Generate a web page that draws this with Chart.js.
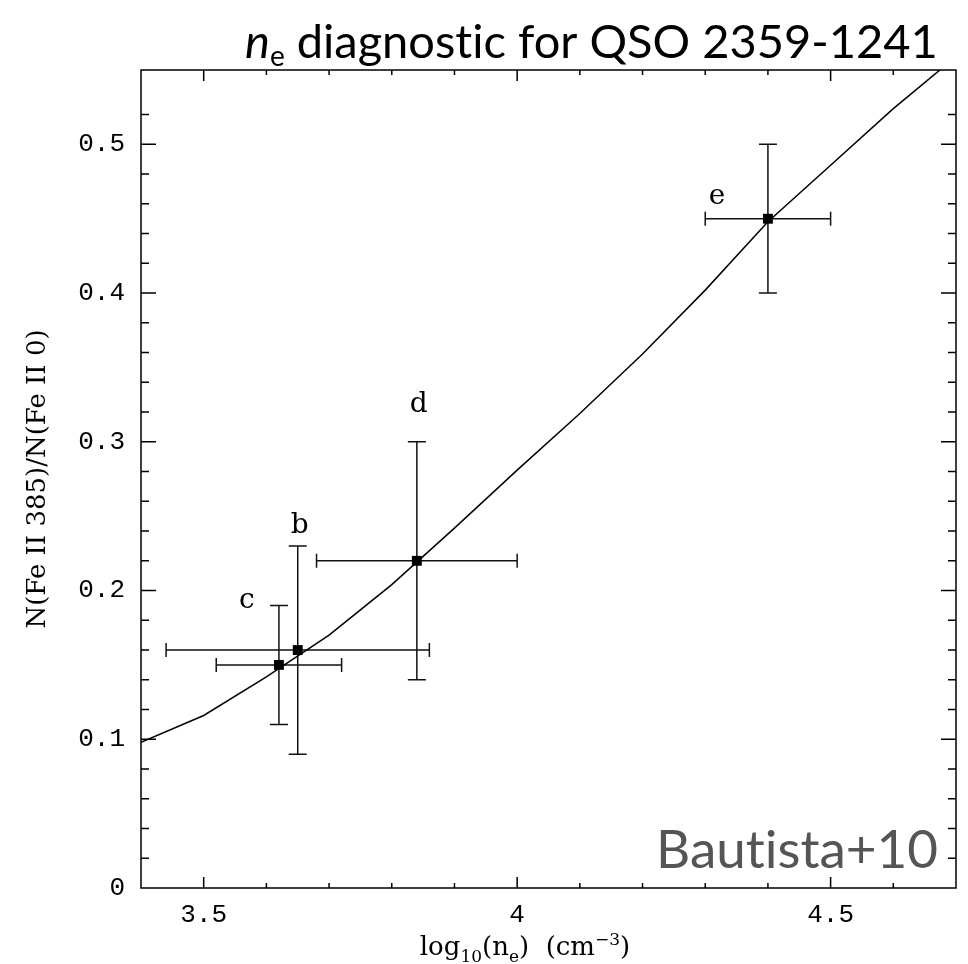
<!DOCTYPE html>
<html>
<head>
<meta charset="utf-8">
<script src="https://cdn.jsdelivr.net/npm/chart.js@4.4.0/dist/chart.umd.min.js"></script>
<style>
  html, body { margin: 0; padding: 0; background: #fff; }
</style>
</head>
<body>
<canvas id="neChart" width="968" height="964"></canvas>
<script>
// model curve: line ratio vs density
const modelX = [3.4, 3.5, 3.6, 3.7, 3.8, 3.9, 4.0, 4.1, 4.2, 4.3, 4.4, 4.5, 4.6, 4.7];
const modelY = [0.098, 0.116, 0.142, 0.170, 0.204, 0.242, 0.281, 0.319, 0.359, 0.402, 0.448, 0.486, 0.524, 0.559];

// measured components
const obsLabel = ['c', 'b', 'd', 'e'];
const obsX = [3.62, 3.65, 3.84, 4.40];
const obsY = [0.15, 0.16, 0.22, 0.45];
const obsXLo = [3.52, 3.44, 3.68, 4.30];
const obsXHi = [3.72, 3.86, 4.00, 4.50];
const obsYLo = [0.11, 0.09, 0.14, 0.40];
const obsYHi = [0.19, 0.23, 0.30, 0.50];
// where the component letters sit (data units)
const labelX = [3.569, 3.653, 3.843, 4.319];
const labelY = [0.188, 0.239, 0.320, 0.460];

const xTickLabels = [3.5, 4, 4.5];
const yTickLabels = [0, 0.1, 0.2, 0.3, 0.4, 0.5];

const isLabelled = (list, v) => list.some(t => Math.abs(t - v) < 1e-6);
const labelFor = (list, v) => isLabelled(list, v) ? String(list.find(t => Math.abs(t - v) < 1e-6)) : '';

// text drawn piece by piece (sub/superscripts, and no "ti" ligature)
function drawParts(ctx, parts, x, y) {
  let cx = x;
  parts.forEach(([txt, font, dy]) => {
    ctx.font = font;
    ctx.fillText(txt, cx, y + dy);
    cx += ctx.measureText(txt).width;
  });
}
function partsWidth(ctx, parts) {
  return parts.reduce((w, [txt, font]) => { ctx.font = font; return w + ctx.measureText(txt).width; }, 0);
}

const errorBars = {
  id: 'errorBars',
  beforeDatasetsDraw(chart) {
    const { ctx, scales: { x, y } } = chart;
    ctx.save();
    ctx.strokeStyle = '#111';
    ctx.lineWidth = 1.5;
    obsX.forEach((v, i) => {
      const px = x.getPixelForValue(v);
      const py = y.getPixelForValue(obsY[i]);
      const x0 = x.getPixelForValue(obsXLo[i]), x1 = x.getPixelForValue(obsXHi[i]);
      const y0 = y.getPixelForValue(obsYLo[i]), y1 = y.getPixelForValue(obsYHi[i]);
      ctx.beginPath();
      ctx.moveTo(x0, py); ctx.lineTo(x1, py);
      ctx.moveTo(x0, py - 7); ctx.lineTo(x0, py + 7);
      ctx.moveTo(x1, py - 7); ctx.lineTo(x1, py + 7);
      ctx.moveTo(px, y0); ctx.lineTo(px, y1);
      ctx.moveTo(px - 9, y0); ctx.lineTo(px + 9, y0);
      ctx.moveTo(px - 9, y1); ctx.lineTo(px + 9, y1);
      ctx.stroke();
    });
    ctx.restore();
  }
};

const frameAndText = {
  id: 'frameAndText',
  afterDraw(chart) {
    const { ctx, chartArea: a, scales: { x, y } } = chart;
    ctx.save();
    // frame
    ctx.strokeStyle = '#000';
    ctx.lineWidth = 1.5;
    ctx.strokeRect(a.left, a.top, a.right - a.left, a.bottom - a.top);
    // inward ticks on all four sides
    ctx.beginPath();
    x.ticks.forEach(t => {
      const px = x.getPixelForValue(t.value);
      if (px <= a.left + 1 || px >= a.right - 1) return;
      const len = isLabelled(xTickLabels, t.value) ? 11 : 5;
      ctx.moveTo(px, a.bottom); ctx.lineTo(px, a.bottom - len);
      ctx.moveTo(px, a.top); ctx.lineTo(px, a.top + len);
    });
    y.ticks.forEach(t => {
      const py = y.getPixelForValue(t.value);
      if (py >= a.bottom - 1 || py <= a.top + 1) return;
      const len = isLabelled(yTickLabels, t.value) ? 15 : 8;
      ctx.moveTo(a.left, py); ctx.lineTo(a.left + len, py);
      ctx.moveTo(a.right, py); ctx.lineTo(a.right - len, py);
    });
    ctx.stroke();

    // component letters
    ctx.fillStyle = '#000';
    ctx.font = '28px "DejaVu Serif"';
    ctx.textAlign = 'center';
    ctx.textBaseline = 'alphabetic';
    obsLabel.forEach((s, i) => {
      ctx.fillText(s, x.getPixelForValue(labelX[i]), y.getPixelForValue(labelY[i]));
    });

    // x axis title with sub/superscripts
    ctx.textAlign = 'left';
    const f = '26px "DejaVu Serif"', fs = '17px "DejaVu Serif"';
    const xt = [['log', f, 0], ['10', fs, 7], ['(n', f, 0], ['e', fs, 7], [')  (cm', f, 0], ['\u22123', fs, -10], [')', f, 0]];
    drawParts(ctx, xt, 525 - partsWidth(ctx, xt) / 2, 955);

    // main title
    const tf = '47px Lato';
    const tt = [['n', 'italic 47px Lato', 0], ['e', '28px Lato', 8], [' diagnos', tf, 0], ['t', tf, 0], ['ic for QSO 2359-1241', tf, 0]];
    drawParts(ctx, tt, 245, 58);

    // reference tag
    ctx.fillStyle = '#555';
    const bf = '53px Lato';
    const bt = [['Bau', bf, 0], ['t', bf, 0], ['ista+10', bf, 0]];
    drawParts(ctx, bt, 938 - partsWidth(ctx, bt), 868);
    ctx.restore();
  }
};

new Chart(document.getElementById('neChart').getContext('2d'), {
  type: 'scatter',
  data: {
    datasets: [
      {
        label: 'components',
        data: obsX.map((v, i) => ({ x: v, y: obsY[i] })),
        pointStyle: 'rect',
        pointRadius: 7,
        backgroundColor: '#000',
        borderColor: '#000',
        borderWidth: 0
      },
      {
        label: 'model',
        data: modelX.map((v, i) => ({ x: v, y: modelY[i] })),
        showLine: true,
        pointRadius: 0,
        borderColor: '#000',
        borderWidth: 1.5,
        tension: 0
      }
    ]
  },
  options: {
    responsive: false,
    animation: false,
    layout: { padding: { top: 70, right: 11, left: 0, bottom: 0 } },
    plugins: { legend: { display: false }, tooltip: { enabled: false } },
    scales: {
      x: {
        type: 'linear',
        min: 3.4,
        max: 4.7,
        grid: { display: false, drawTicks: false },
        border: { display: false },
        afterFit: s => { s.height = 76; },
        ticks: {
          stepSize: 0.1,
          autoSkip: false,
          maxRotation: 0,
          padding: 12,
          color: '#000',
          font: { family: 'Liberation Mono', size: 26 },
          callback: v => labelFor(xTickLabels, v)
        }
      },
      y: {
        min: 0,
        max: 0.55,
        grid: { display: false, drawTicks: false },
        border: { display: false },
        afterFit: s => { s.width = 141; },
        title: {
          display: true,
          text: 'N(Fe II 385)/N(Fe II 0)',
          color: '#000',
          font: { family: 'DejaVu Serif', size: 26 },
          padding: { top: 23, bottom: 0 }
        },
        ticks: {
          stepSize: 0.02,
          autoSkip: false,
          padding: 16,
          color: '#000',
          font: { family: 'Liberation Mono', size: 26 },
          callback: v => labelFor(yTickLabels, v)
        }
      }
    }
  },
  plugins: [errorBars, frameAndText]
});
</script>
</body>
</html>
